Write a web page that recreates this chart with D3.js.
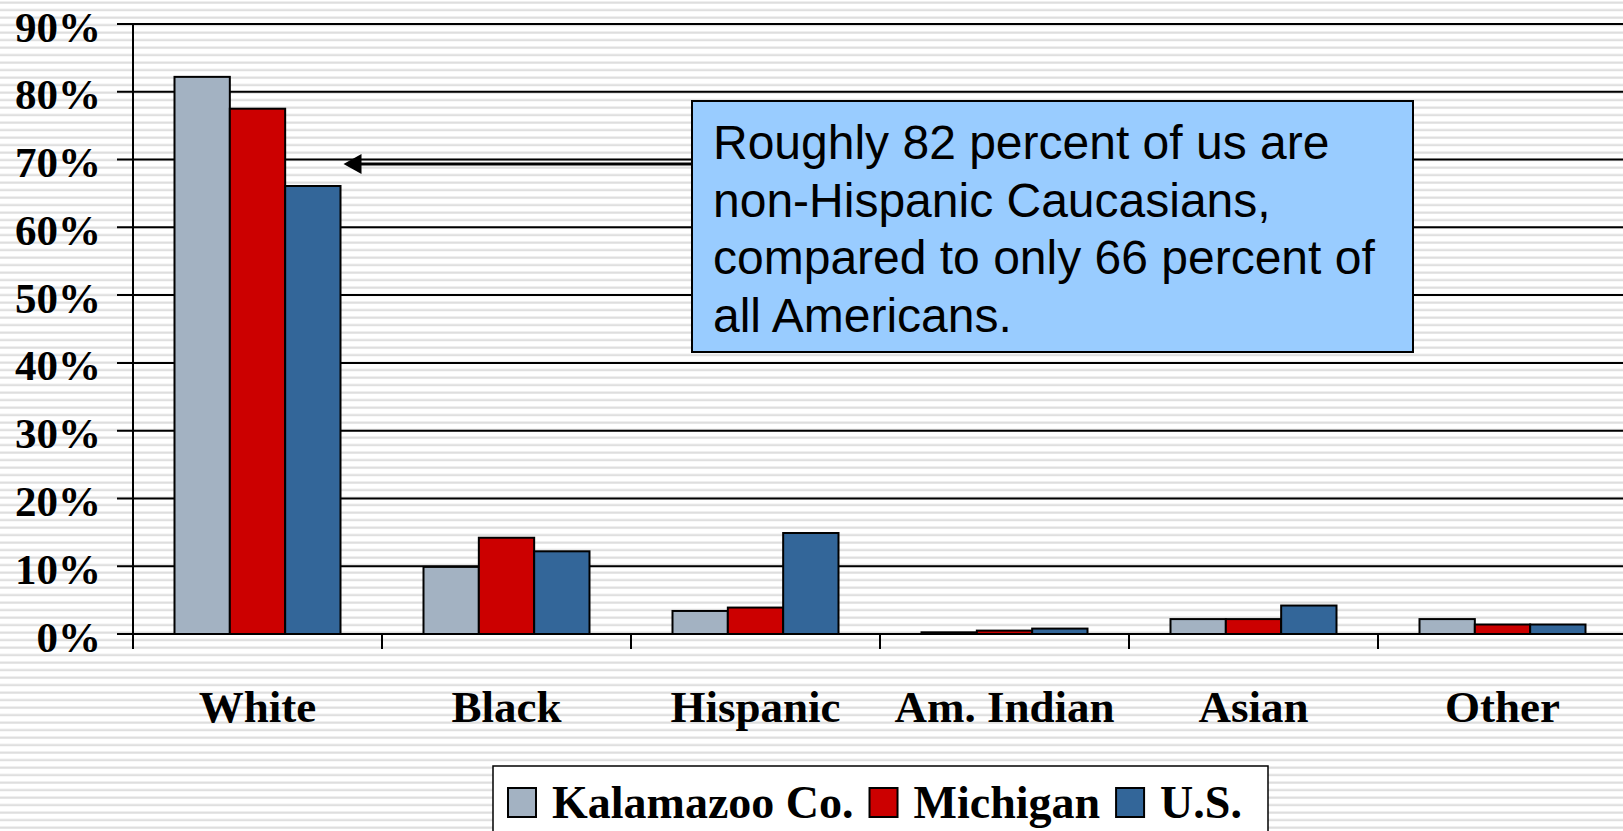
<!DOCTYPE html>
<html>
<head>
<meta charset="utf-8">
<script src="https://cdn.jsdelivr.net/npm/d3@7"></script>
<style>
  html, body { margin: 0; padding: 0; background: #fff; }
  svg { display: block; }
  .tick-label, .cat-label, .legend-text { font-family: "Liberation Serif", "Times New Roman", serif; font-weight: bold; fill: #000; }
  .note { font-family: "Liberation Sans", Arial, sans-serif; fill: #000; }
</style>
</head>
<body>
<div id="container"></div>
<script>
const w = 1623;
const h = 831;

// Data
const categories = ['White', 'Black', 'Hispanic', 'Am. Indian', 'Asian', 'Other'];
const seriesNames = ['Kalamazoo Co.', 'Michigan', 'U.S.'];
const kalamazoo = [82.2, 9.9, 3.4, 0.25, 2.2, 2.2];
const michigan = [77.5, 14.2, 3.9, 0.5, 2.2, 1.4];
const us = [66.1, 12.2, 14.9, 0.8, 4.2, 1.4];
const yTicks = [0, 10, 20, 30, 40, 50, 60, 70, 80, 90];
const noteLines = [
  'Roughly 82 percent of us are',
  'non-Hispanic Caucasians,',
  'compared to only 66 percent of',
  'all Americans.'
];

const colors = ['#A3B2C2', '#CC0000', '#336699'];
const seriesValues = [kalamazoo, michigan, us];

const axisX = 133;
const bandW = 249;

const svg = d3.select('#container')
              .append('svg')
              .attr('width', w)
              .attr('height', h);

// striped background
const pat = svg.append('defs')
               .append('pattern')
               .attr('id', 'stripes')
               .attr('patternUnits', 'userSpaceOnUse')
               .attr('width', 20)
               .attr('height', 7.5);
pat.append('rect').attr('width', 20).attr('height', 7.5).attr('fill', '#fff');
pat.append('rect').attr('y', 1.5).attr('width', 20).attr('height', 2.2).attr('fill', '#dedede');

svg.append('rect')
   .attr('width', w)
   .attr('height', h)
   .attr('fill', 'url(#stripes)');

// Scales
const xScale = d3.scaleBand()
                 .domain(categories)
                 .range([axisX, axisX + bandW * categories.length])
                 .paddingInner(0)
                 .paddingOuter(0);

// gap width 150% -> 0.75 bar on each side
const xInner = d3.scaleBand()
                 .domain(seriesNames)
                 .range([0, bandW])
                 .paddingInner(0)
                 .paddingOuter(0.75);

const yScale = d3.scaleLinear()
                 .domain([0, 90])
                 .range([634, 24]);

// gridlines + y ticks
svg.append('g')
   .selectAll('line')
   .data(yTicks)
   .enter()
   .append('line')
   .attr('x1', axisX - 16)
   .attr('x2', w)
   .attr('y1', d => yScale(d))
   .attr('y2', d => yScale(d))
   .attr('stroke', '#000')
   .attr('stroke-width', 2);

svg.append('g')
   .selectAll('text')
   .data(yTicks)
   .enter()
   .append('text')
   .attr('class', 'tick-label')
   .attr('x', 101)
   .attr('y', d => yScale(d) + 17.5)
   .attr('text-anchor', 'end')
   .style('font-size', '43px')
   .text(d => d + '%');

// y axis line
svg.append('line')
   .attr('x1', axisX).attr('x2', axisX)
   .attr('y1', yScale(90)).attr('y2', yScale(0) + 15)
   .attr('stroke', '#000')
   .attr('stroke-width', 2);

// category ticks
svg.append('g')
   .selectAll('line')
   .data(categories.slice(1))
   .enter()
   .append('line')
   .attr('x1', d => xScale(d))
   .attr('x2', d => xScale(d))
   .attr('y1', yScale(0))
   .attr('y2', yScale(0) + 15)
   .attr('stroke', '#000')
   .attr('stroke-width', 2);

// Bars
const groups = svg.append('g')
                  .selectAll('g')
                  .data(seriesNames)
                  .enter()
                  .append('g')
                  .attr('fill', (d, i) => colors[i]);

groups.selectAll('rect')
      .data((s, i) => seriesValues[i].map((v, j) => ({ s, cat: categories[j], v })))
      .enter()
      .append('rect')
      .attr('x', d => xScale(d.cat) + xInner(d.s))
      .attr('width', xInner.bandwidth())
      .attr('y', d => yScale(d.v))
      .attr('height', d => yScale(0) - yScale(d.v))
      .attr('stroke', '#000')
      .attr('stroke-width', 2);

// category labels
svg.append('g')
   .selectAll('text')
   .data(categories)
   .enter()
   .append('text')
   .attr('class', 'cat-label')
   .attr('x', d => xScale(d) + bandW / 2)
   .attr('y', 722)
   .attr('text-anchor', 'middle')
   .style('font-size', '45px')
   .text(d => d);

// Annotation arrow
const arrowY = 164;
const tipX = xScale('White') + xInner('U.S.') + xInner.bandwidth() + 3;
svg.append('line')
   .attr('x1', 692).attr('x2', tipX + 12)
   .attr('y1', arrowY).attr('y2', arrowY)
   .attr('stroke', '#000')
   .attr('stroke-width', 3);
svg.append('path')
   .attr('d', `M${tipX},${arrowY} L${tipX + 18},${arrowY - 10} L${tipX + 18},${arrowY + 10} Z`)
   .attr('fill', '#000');

// Annotation box
svg.append('rect')
   .attr('x', 692).attr('y', 101)
   .attr('width', 721).attr('height', 251)
   .attr('fill', '#99CCFF')
   .attr('stroke', '#000')
   .attr('stroke-width', 2);

svg.append('text')
   .attr('class', 'note')
   .style('font-size', '48px')
   .selectAll('tspan')
   .data(noteLines)
   .enter()
   .append('tspan')
   .attr('x', 713)
   .attr('y', (d, i) => 159 + i * 57.5)
   .text(d => d);

// Legend
const legend = svg.append('g').attr('id', 'legend');
legend.append('rect')
      .attr('x', 493).attr('y', 766)
      .attr('width', 775).attr('height', 90)
      .attr('fill', '#fff')
      .attr('stroke', '#000')
      .attr('stroke-width', 1.5);

let lx = 508;
seriesNames.forEach((name, i) => {
  legend.append('rect')
        .attr('x', lx).attr('y', 788)
        .attr('width', 28).attr('height', 29)
        .attr('fill', colors[i])
        .attr('stroke', '#000')
        .attr('stroke-width', 2);
  const t = legend.append('text')
                  .attr('class', 'legend-text')
                  .attr('x', lx + 44)
                  .attr('y', 818)
                  .style('font-size', '46px')
                  .text(name);
  lx = lx + 44 + t.node().getComputedTextLength() + 16;
});
</script>
</body>
</html>
